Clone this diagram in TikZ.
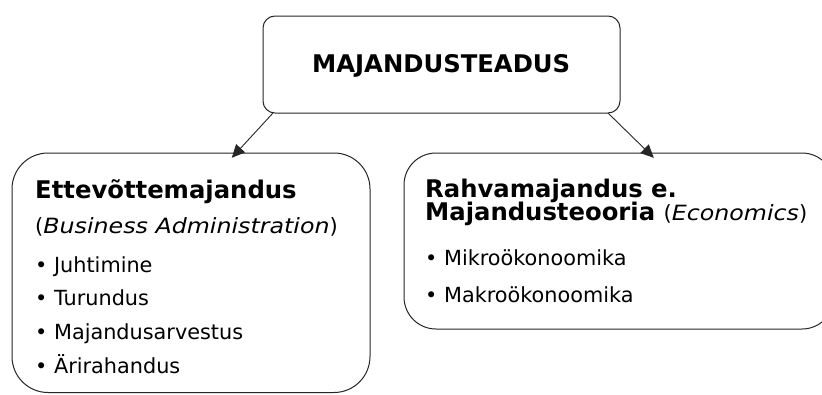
\documentclass[tikz,border=0pt]{standalone}
\usepackage{fontspec}
\setmainfont{DejaVu Sans}[ItalicFeatures={FakeStretch=1.13}]
\usetikzlibrary{arrows.meta}
\newcommand\plainsize{\fontsize{21}{21}\selectfont}
\begin{document}
\begin{tikzpicture}[x=1pt,y=-1pt,
  box/.style={draw=black!85, line width=1pt, fill=white},
  arr/.style={draw=black!85, line width=0.9pt, -{Triangle[length=13pt,width=12pt]}},
  head/.style={anchor=base west, inner sep=0pt, font=\fontsize{24.3}{24.3}\selectfont\bfseries},
  txt/.style={anchor=base west, inner sep=0pt, font=\fontsize{20.8}{20.8}\selectfont}]
  \useasboundingbox (0,0) rectangle (822,394);
  \begin{scope}
    \clip (0,0) rectangle (822,394);
    % boxes
    \draw[box, rounded corners=12pt] (263,16) rectangle (620,113);
    \node[inner sep=0pt, minimum width=357pt, minimum height=97pt] (top) at (441.5,64.5) {};
    \draw[box, rounded corners=36pt] (12,153) rectangle (370,392.5);
    \node[inner sep=0pt, minimum width=358pt, minimum height=239.5pt] (left) at (191,272.75) {};
    \draw[box, rounded corners=32pt] (404,153) rectangle (834,329);
    \node[inner sep=0pt, minimum width=430pt, minimum height=176pt] (right) at (619,241) {};
  \end{scope}
  % title
  \node[head] (title) at (312,72) {MAJANDUSTEADUS};
  % left column
  \node[head] (l1) at (35,198) {Ettevõttemajandus};
  \node[txt] (l2) at (35,233) {\plainsize(\textit{Business Administration})};
  \node[txt] (l3) at (35,272) {• Juhtimine};
  \node[txt] (l4) at (35,305) {• Turundus};
  \node[txt] (l5) at (35,339) {• Majandusarvestus};
  \node[txt] (l6) at (35,373) {• Ärirahandus};
  % right column
  \node[head] (r1) at (425,197) {Rahvamajandus e.};
  \node[head] (r2) at (425,220) {Majandusteooria {\plainsize\mdseries(\textit{Economics})}};
  \node[txt] (r3) at (425,265) {• Mikroökonoomika};
  \node[txt] (r4) at (425,302) {• Makroökonoomika};
  % connectors
  \draw[arr] ([xshift=10pt]top.south west) -- ([xshift=220pt,yshift=-5pt]left.north west);
  \draw[arr] ([xshift=-12pt]top.south east) -- ([xshift=250pt,yshift=-5pt]right.north west);
\end{tikzpicture}
\end{document}
